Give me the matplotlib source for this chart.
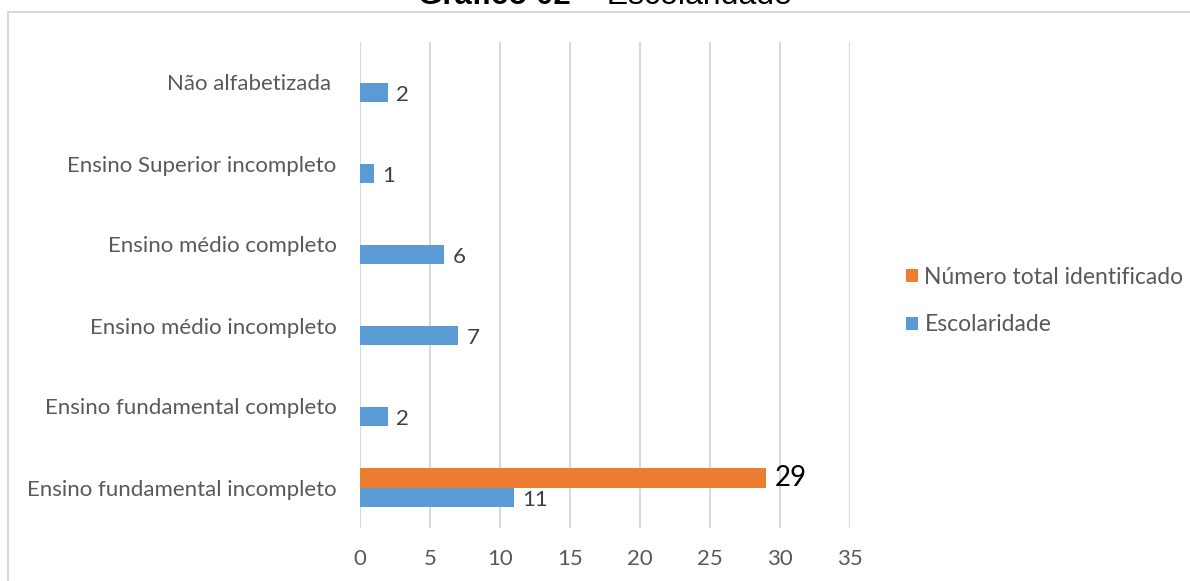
import matplotlib
matplotlib.use('Agg')
import matplotlib.pyplot as plt
import numpy as np
from matplotlib.patches import Rectangle

# Dados do gráfico (de baixo para cima)
categorias = [
    'Ensino fundamental incompleto',
    'Ensino fundamental completo',
    'Ensino médio incompleto',
    'Ensino médio completo',
    'Ensino Superior incompleto',
    'Não alfabetizada ',
]
escolaridade = [11, 2, 7, 6, 1, 2]
total_identificado = [29, 0, 0, 0, 0, 0]
ticks_x = [0, 5, 10, 15, 20, 25, 30, 35]

AZUL = '#5B9BD5'
LARANJA = '#ED7D31'
CINZA_TXT = '#595959'
GRADE = '#D9D9D9'

plt.rcParams['font.family'] = ['Lato', 'DejaVu Sans']

fig = plt.figure(figsize=(11.9, 5.81), dpi=100)
ax = fig.add_axes([360 / 1190, 1 - 528 / 581, 490 / 1190, 486 / 581])

y = np.arange(len(categorias))
h = 0.24
b_azul = ax.barh(y - h / 2, escolaridade, height=h, color=AZUL, label='Escolaridade', zorder=3)
b_lar = ax.barh(y + h / 2, total_identificado, height=h, color=LARANJA,
                label='Número total identificado', zorder=3)

# Rótulos de valor
for rect, v in zip(b_azul, escolaridade):
    ax.annotate(str(v), (v, rect.get_y() + rect.get_height() / 2),
                xytext=(6, -2), textcoords='offset points', va='center', ha='left',
                fontsize=16, color='#404040')
for rect, v in zip(b_lar, total_identificado):
    if v:
        ax.annotate(str(v), (v, rect.get_y() + rect.get_height() / 2),
                    xytext=(6, 0), textcoords='offset points', va='center', ha='left',
                    fontsize=20, color='black')

ax.set_xlim(0, 35)
ax.set_ylim(-0.5, len(categorias) - 0.5)
ax.set_xticks(ticks_x)
ax.set_xticklabels([str(t) for t in ticks_x])
ax.set_yticks(y)
ax.set_yticklabels(categorias)
ax.tick_params(axis='both', length=0, labelsize=16, labelcolor=CINZA_TXT)
ax.tick_params(axis='y', pad=17)
ax.tick_params(axis='x', pad=15)
ax.grid(axis='x', color=GRADE, linewidth=1.5, zorder=0)
for s in ax.spines.values():
    s.set_visible(False)

# Legenda (ordem invertida como no Excel)
handles, labels = ax.get_legend_handles_labels()
fig.legend(handles[::-1], labels[::-1], loc='center left',
           bbox_to_anchor=(897 / 1190, 1 - 301 / 581), frameon=False,
           fontsize=16.5, labelcolor=CINZA_TXT, handlelength=0.5, handleheight=0.5,
           handletextpad=0.3, labelspacing=1.15, borderaxespad=0)

# Moldura da área do gráfico
fig.add_artist(Rectangle((8 / 1190, -0.2), 1.2, 1.2 - 12 / 581,
                         transform=fig.transFigure, fill=False,
                         edgecolor=GRADE, linewidth=1.5))

# Título
fig.text(418 / 1190, 1 - 4 / 581, 'Gráfico 02', ha='left', va='baseline',
         fontsize=22.5, fontweight='bold', family='Liberation Sans')
fig.text(580 / 1190, 1 - 4 / 581, '– Escolaridade', ha='left', va='baseline',
         fontsize=23, family='Liberation Sans')

fig.savefig('out.png', dpi=100)
